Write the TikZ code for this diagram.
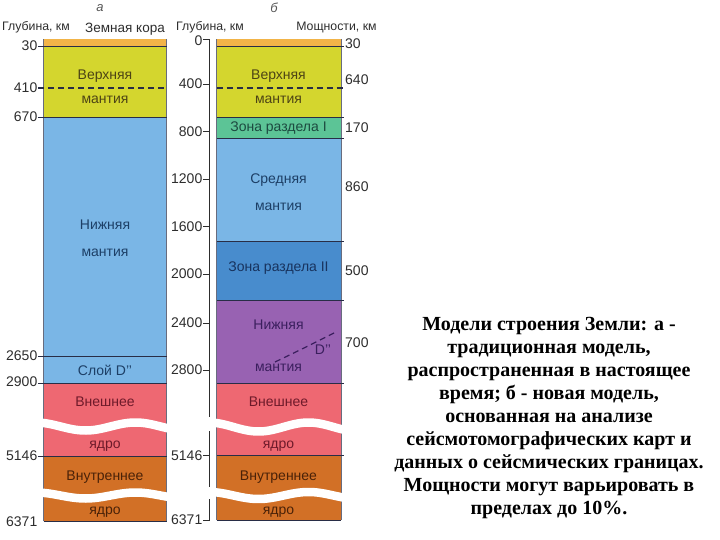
\documentclass[tikz,border=0pt]{standalone}
\usepackage{fontspec}
\setmainfont{Liberation Sans}
\newfontfamily\capfont{Liberation Serif}
\definecolor{crustc}{RGB}{242,180,72}
\definecolor{upperc}{RGB}{212,214,46}
\definecolor{lbluec}{RGB}{122,182,230}
\definecolor{zoneIc}{RGB}{92,196,150}
\definecolor{zoneIIc}{RGB}{72,140,205}
\definecolor{purplec}{RGB}{152,98,178}
\definecolor{pinkc}{RGB}{238,104,114}
\definecolor{brownc}{RGB}{210,112,38}
\definecolor{bndc}{RGB}{40,45,70}
\definecolor{numc}{RGB}{45,45,45}
\definecolor{tUpper}{RGB}{77,68,21}
\definecolor{tBlue}{RGB}{29,63,102}
\definecolor{tGreen}{RGB}{29,74,64}
\definecolor{tBlue2}{RGB}{24,51,94}
\definecolor{tPurple}{RGB}{59,31,94}
\definecolor{tPink}{RGB}{110,26,42}
\definecolor{tBrown}{RGB}{74,34,8}
\begin{document}
\begin{tikzpicture}[x=1pt,y=-1pt,
  lay/.style={font=\fontsize{14}{14}\selectfont, inner sep=0pt, anchor=center},
  num/.style={font=\fontsize{14}{14}\selectfont, text=numc, inner sep=0pt},
  hdr/.style={font=\fontsize{12.3}{12.3}\selectfont, text=numc, inner sep=0pt},
  bnd/.style={draw=bndc, line width=0.8pt},
  tickline/.style={draw=numc, line width=0.8pt},
  dashline/.style={draw=bndc, line width=1.2pt, dash pattern=on 6pt off 4pt},
  brk/.style={draw=white, line width=8.5pt},
]
\useasboundingbox (0,0) rectangle (720,540);

% ---------- headers
\node[font=\itshape\fontsize{13}{13}\selectfont, text=numc!80] (ha) at (100,8) {а};
\node[font=\itshape\fontsize{13}{13}\selectfont, text=numc!80] (hb) at (274,8) {б};
\node[hdr] (hdepthA) at (36,27.5) {Глубина, км};
\node[font=\fontsize{13.5}{13.5}\selectfont, text=numc, inner sep=0pt] (hcrust) at (125,29) {Земная кора};
\node[hdr] (hdepthB) at (210,27) {Глубина, км};
\node[hdr] (hthick) at (336.5,27.5) {Мощности, км};

% ---------- left column (a)
\fill[crustc] (43.5,39.5) rectangle (166.5,46);
\fill[upperc] (43.5,46) rectangle (166.5,117);
\fill[lbluec] (43.5,117) rectangle (166.5,383);
\fill[pinkc] (43.5,383) rectangle (166.5,456);
\fill[brownc] (43.5,456) rectangle (166.5,521);
\draw[draw=bndc!70, line width=0.5pt] (43.5,39.5) -- (43.5,521) (166.5,39.5) -- (166.5,521);
\foreach \yy in {46,117,356,383,456} {\draw[bnd] (38,\yy) -- (166.5,\yy);}
\draw[bnd] (43.5,521) -- (166.5,521);
\draw[dashline] (38,88) -- (166.5,88);

\draw[brk] plot[smooth, domain=-2:126, samples=50] ({43.5+\x},{426.5+4*sin(3.6*(\x-17))});
\draw[brk] plot[smooth, domain=-2:126, samples=50] ({43.5+\x},{495.5+3*sin(3.6*(\x-17))});

\node[num, anchor=east] (a30) at (37.5,46) {30};
\node[num, anchor=east] (a410) at (37.5,88) {410};
\node[num, anchor=east] (a670) at (37.5,117) {670};
\node[num, anchor=east] (a2650) at (37.5,356) {2650};
\node[num, anchor=east] (a2900) at (37.5,382) {2900};
\node[num, anchor=east] (a5146) at (37.5,456) {5146};
\node[num, anchor=east] (a6371) at (37.5,522) {6371};

\node[lay, text=tUpper] (aUp1) at (105,76) {Верхняя};
\node[lay, text=tUpper] (aUp2) at (105,99.5) {мантия};
\node[lay, text=tBlue] (aLo1) at (105,225) {Нижняя};
\node[lay, text=tBlue] (aLo2) at (105,253) {мантия};
\node[lay, text=tBlue] (aD) at (105,370) {Слой D{'}{'}};
\node[lay, text=tPink] (aOut1) at (105,402) {Внешнее};
\node[lay, text=tPink] (aOut2) at (105,446) {ядро};
\node[lay, text=tBrown] (aIn1) at (105,477) {Внутреннее};
\node[lay, text=tBrown] (aIn2) at (105,512) {ядро};

% ---------- right column (b)
\fill[crustc] (216.5,39.5) rectangle (341,46);
\fill[upperc] (216.5,46) rectangle (341,117);
\fill[zoneIc] (216.5,117) rectangle (341,138.5);
\fill[lbluec] (216.5,138.5) rectangle (341,241.5);
\fill[zoneIIc] (216.5,241.5) rectangle (341,300);
\fill[purplec] (216.5,300) rectangle (341,383);
\fill[pinkc] (216.5,383) rectangle (341,455.5);
\fill[brownc] (216.5,455.5) rectangle (341,520);
\draw[draw=bndc!70, line width=0.5pt] (216.5,39.5) -- (216.5,520) (341,39.5) -- (341,520);
\foreach \yy in {46,117,138.5,241.5,300,383,455.5} {\draw[bnd] (216.5,\yy) -- (344,\yy);}
\draw[bnd] (216.5,520) -- (341,520);
\draw[dashline] (216.5,88) -- (344,88);

\draw[brk] plot[smooth, domain=-2:127, samples=50] ({216.5+\x},{427+4.5*sin(3.6*(\x-17))});
\draw[brk] plot[smooth, domain=-2:127, samples=50] ({216.5+\x},{495.5+3.5*sin(3.6*(\x-17))});

% axis
\draw[tickline] (203,39.5) -- (209,39.5) -- (209,417);
\draw[tickline] (209,431) -- (209,487);
\draw[tickline] (209,499) -- (209,520) -- (203,520);
\foreach \yy in {84,131.5,179,226.5,274,323,370,455.5} {\draw[tickline] (203,\yy) -- (209,\yy);}

\node[num, anchor=east] (b0) at (202.5,40.5) {0};
\node[num, anchor=east] (b400) at (202.5,84) {400};
\node[num, anchor=east] (b800) at (202.5,131.5) {800};
\node[num, anchor=east] (b1200) at (202.5,179) {1200};
\node[num, anchor=east] (b1600) at (202.5,226.5) {1600};
\node[num, anchor=east] (b2000) at (202.5,274) {2000};
\node[num, anchor=east] (b2400) at (202.5,323) {2400};
\node[num, anchor=east] (b2800) at (202.5,370) {2800};
\node[num, anchor=east] (b5146) at (202.5,455.5) {5146};
\node[num, anchor=east] (b6371) at (202.5,520) {6371};

\node[num, anchor=west] (t30) at (345,44) {30};
\node[num, anchor=west] (t640) at (345,80) {640};
\node[num, anchor=west] (t170) at (345,128) {170};
\node[num, anchor=west] (t860) at (345,187) {860};
\node[num, anchor=west] (t500) at (345,271) {500};
\node[num, anchor=west] (t700) at (345,343) {700};

\node[lay, text=tUpper] (bUp1) at (278.5,76) {Верхняя};
\node[lay, text=tUpper] (bUp2) at (278.5,99.5) {мантия};
\node[lay, text=tGreen] (bZ1) at (278.5,128) {Зона раздела I};
\node[lay, text=tBlue] (bMid1) at (278.5,180) {Средняя};
\node[lay, text=tBlue] (bMid2) at (278.5,207) {мантия};
\node[lay, text=tBlue2] (bZ2) at (278.5,268) {Зона раздела II};
\node[lay, text=tPurple] (bLo1) at (278.5,325) {Нижняя};
\node[lay, text=tPurple] (bLo2) at (278.5,368) {мантия};
\node[lay, text=tPurple] (bD) at (323,350) {D{'}{'}};
\draw[draw=tPurple, line width=1.2pt, dash pattern=on 6pt off 4pt] (275,362) .. controls (300,350) .. (334,333);
\node[lay, text=tPink] (bOut1) at (278.5,402) {Внешнее};
\node[lay, text=tPink] (bOut2) at (278.5,446) {ядро};
\node[lay, text=tBrown] (bIn1) at (278.5,477) {Внутреннее};
\node[lay, text=tBrown] (bIn2) at (278.5,512) {ядро};

% ---------- caption
\node[align=center, inner sep=0pt, font=\capfont\bfseries\fontsize{20}{23}\selectfont] (cap) at (549,418) {Модели строения Земли: а -\\традиционная модель,\\распространенная в настоящее\\время; б - новая модель,\\основанная на анализе\\сейсмотомографических карт и\\данных о сейсмических границах.\\Мощности могут варьировать в\\пределах до 10\%.};
\end{tikzpicture}
\end{document}
